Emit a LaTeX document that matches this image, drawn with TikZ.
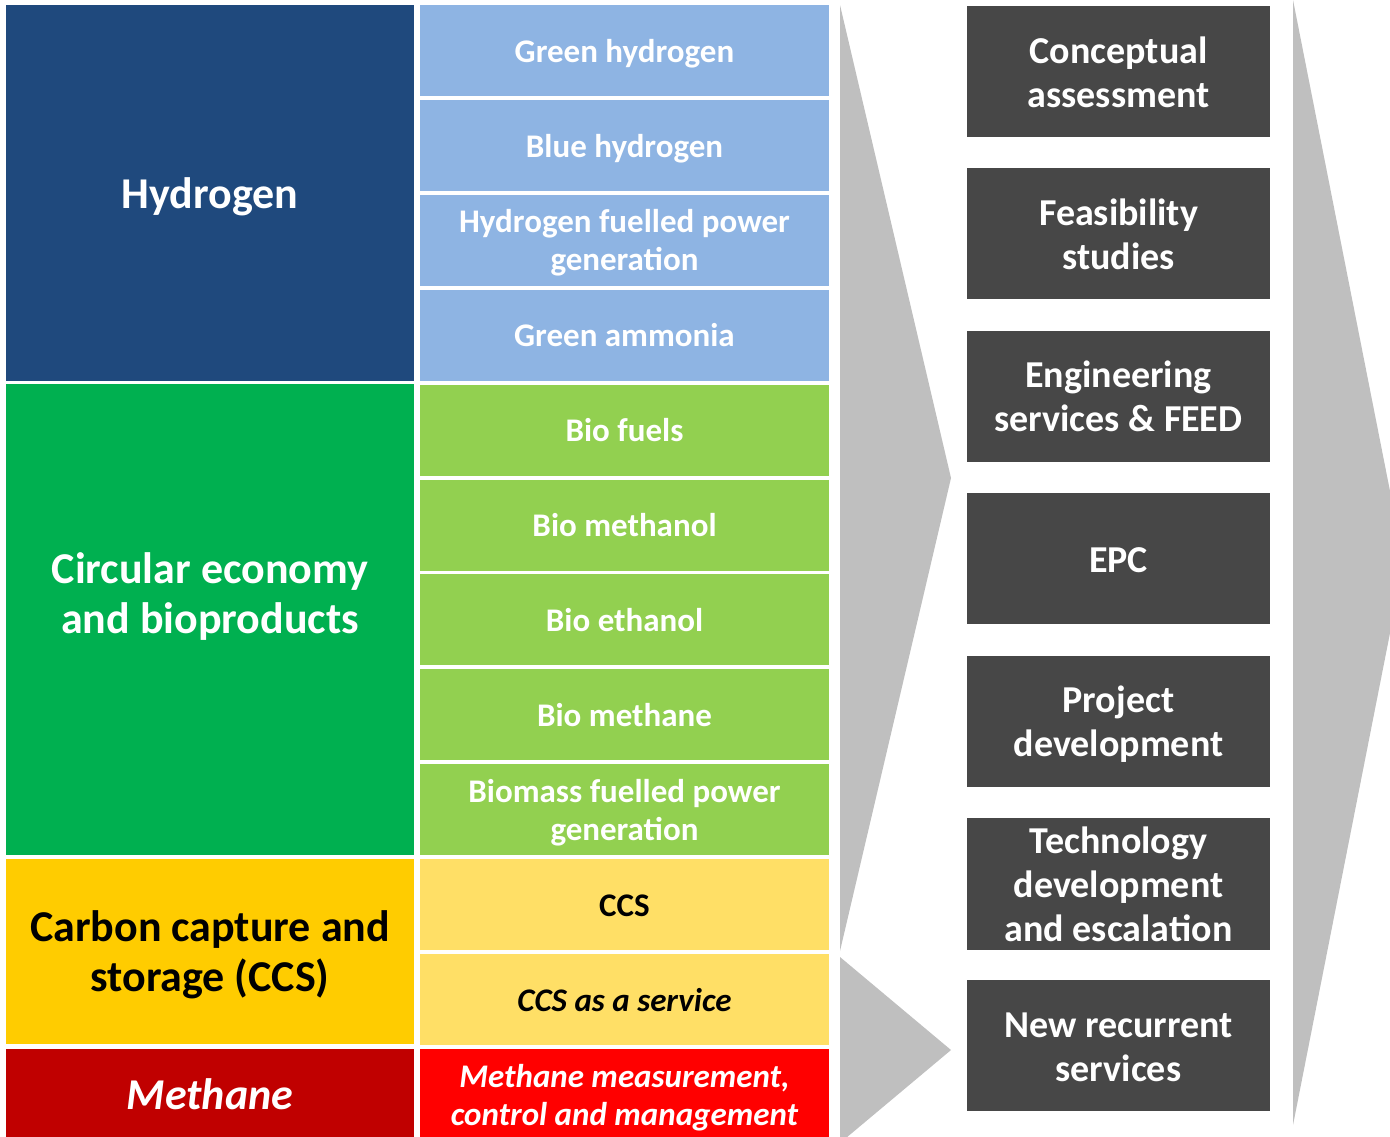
\documentclass[tikz,border=0pt]{standalone}
\usepackage{fontspec}
\setmainfont{Carlito}
\definecolor{hydroblue}{HTML}{1F497D}
\definecolor{paleblue}{HTML}{8EB4E3}
\definecolor{circgreen}{HTML}{00B050}
\definecolor{palegreen}{HTML}{92D050}
\definecolor{ccsyellow}{HTML}{FFCC00}
\definecolor{paleyellow}{HTML}{FFDF66}
\definecolor{methdark}{HTML}{C00000}
\definecolor{methred}{HTML}{FF0000}
\definecolor{stagegray}{HTML}{474747}
\definecolor{chevgray}{HTML}{BFBFBF}
\newcommand\cellfont{\fontsize{16.5}{19}\selectfont\bfseries}
\newcommand\cellstrut{\rule[-3.7pt]{0pt}{19pt}}
\newcommand\stagestrut{\rule[-4.25pt]{0pt}{22pt}}
\newcommand\topicstrut{\rule[-4.8pt]{0pt}{25pt}}
\begin{document}
\begin{tikzpicture}[x=0.5pt,y=-0.5pt,
    topic/.style={fill=#1,minimum width=204pt,inner sep=0pt,align=center,
      font=\fontsize{22}{25}\selectfont\bfseries},
    cell/.style={fill=#1,minimum width=204.5pt,minimum height=45.5pt,inner sep=0pt,align=center},
    stage/.style={fill=stagegray,text=white,minimum width=151.5pt,minimum height=65.5pt,
      inner sep=0pt,align=center,font=\fontsize{19}{22}\selectfont\bfseries}]
        \useasboundingbox (0,0) rectangle (1390,1136);
        \fill[chevgray] (840,5) -- (951,478) -- (840,951) -- cycle;
        \fill[chevgray] (840,957) -- (951,1050) -- (840,1143) -- cycle;
        \fill[chevgray] (1293,0) -- (1404,562) -- (1293,1125) -- cycle;
        \node[topic=hydroblue,text=white,minimum height=188pt] (hyd) at (210,193) {\topicstrut Hydrogen\topicstrut};
        \node[topic=circgreen,text=white,minimum height=235.5pt] (circ) at (210,619.5)
          {\topicstrut Circular economy\\and bioproducts\rule[-30.8pt]{0pt}{30.8pt}};
        \node[topic=ccsyellow,text=black,minimum height=92.5pt] (ccs) at (210,951.5)
          {\topicstrut Carbon capture and\\storage (CCS)\topicstrut};
        \node[topic=methdark,text=white,minimum height=45.5pt,font=\fontsize{22}{25}\selectfont\bfseries\itshape]
          (meth) at (210,1094.5) {\topicstrut Methane\topicstrut};
        \foreach \i/\lbl/\col/\tcol/\fs in {0/Green hydrogen/paleblue/white/\upshape,
            1/Blue hydrogen/paleblue/white/\upshape,
            2/{Hydrogen fuelled power\\generation}/paleblue/white/\upshape,
            3/Green ammonia/paleblue/white/\upshape,
            4/Bio fuels/palegreen/white/\upshape,
            5/Bio methanol/palegreen/white/\upshape,
            6/Bio ethanol/palegreen/white/\upshape,
            7/Bio methane/palegreen/white/\upshape,
            8/{Biomass fuelled power\\generation}/palegreen/white/\upshape,
            9/CCS/paleyellow/black/\upshape,
            10/CCS as a service/paleyellow/black/\itshape,
            11/{Methane measurement,\\control and management}/methred/white/\itshape}
        \node[cell=\col,text=\tcol,font=\cellfont\fs] (m\i) at (624.5,50.5+94.9*\i) {\cellstrut\lbl\cellstrut};
        \foreach \i/\lbl in {0/{Conceptual\\assessment},
            1/{Feasibility\\studies},
            2/{Engineering\\services \& FEED},
            3/EPC,
            4/{Project\\development},
            5/{Technology\\development\\and escalation},
            6/{New recurrent\\services}}
        \node[stage] (s\i) at (1118.5,71.5+162.4*\i) {\stagestrut\lbl\stagestrut};
\end{tikzpicture}
\end{document}
